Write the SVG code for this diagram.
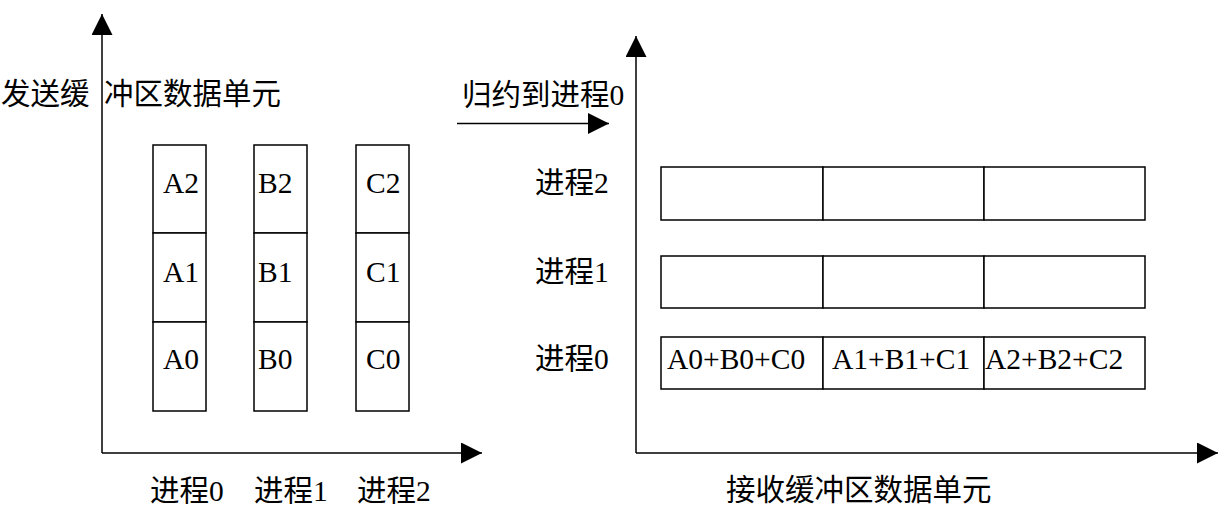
<svg xmlns="http://www.w3.org/2000/svg" width="1232" height="520" viewBox="0 0 1232 520">
<style>
  text { font-family: "Liberation Serif", "Times New Roman", Tinos, "DejaVu Serif", "Noto Sans CJK SC", serif; font-size: 29.5px; fill: #000; }
  .cell { fill: #fff; stroke: #000; stroke-width: 1.5; }
  .axis { stroke: #000; stroke-width: 1.5; fill: none; }
</style>
<defs>
  <marker id="arr" markerUnits="userSpaceOnUse" markerWidth="21" markerHeight="21" refX="21" refY="10.5" orient="auto">
    <path d="M0,0 L21,10.5 L0,21 Z" fill="#000"/>
  </marker>
</defs>
<rect width="1232" height="520" fill="#fff"/>

<g id="connectors">
  <polyline class="axis" points="102,453 482,453" marker-end="url(#arr)"/>
  <line class="axis" x1="102" y1="453" x2="102" y2="14" marker-end="url(#arr)"/>
  <polyline class="axis" points="636,453 1218,453" marker-end="url(#arr)"/>
  <line class="axis" x1="636" y1="453" x2="636" y2="36" marker-end="url(#arr)"/>
  <line class="axis" x1="457" y1="123.5" x2="609" y2="123.5" marker-end="url(#arr)"/>
</g>

<g id="labels">
  <text x="1" y="104">发送缓<tspan x="104">冲区数据单元</tspan></text>
  <text x="462" y="105">归约到进程0</text>
  <text x="150" y="501">进程0</text>
  <text x="254" y="501">进程1</text>
  <text x="357" y="501">进程2</text>
  <text x="726" y="500">接收缓冲区数据单元</text>
  <text x="535" y="193">进程2</text>
  <text x="535" y="282">进程1</text>
  <text x="535" y="369">进程0</text>
</g>

<g id="colA">
  <rect class="cell" x="153" y="145" width="53" height="88"/>
  <rect class="cell" x="153" y="233" width="53" height="89"/>
  <rect class="cell" x="153" y="322" width="53" height="89"/>
  <text x="163" y="193">A2</text>
  <text x="163" y="282">A1</text>
  <text x="163" y="369">A0</text>
</g>
<g id="colB">
  <rect class="cell" x="254" y="145" width="53" height="88"/>
  <rect class="cell" x="254" y="233" width="53" height="89"/>
  <rect class="cell" x="254" y="322" width="53" height="89"/>
  <text x="258" y="193">B2</text>
  <text x="258" y="282">B1</text>
  <text x="258" y="369">B0</text>
</g>
<g id="colC">
  <rect class="cell" x="356" y="145" width="53" height="88"/>
  <rect class="cell" x="356" y="233" width="53" height="89"/>
  <rect class="cell" x="356" y="322" width="53" height="89"/>
  <text x="366" y="193">C2</text>
  <text x="366" y="282">C1</text>
  <text x="366" y="369">C0</text>
</g>

<g id="row2">
  <rect class="cell" x="661" y="167" width="162" height="53"/>
  <rect class="cell" x="823" y="167" width="161" height="53"/>
  <rect class="cell" x="984" y="167" width="161" height="53"/>
</g>
<g id="row1">
  <rect class="cell" x="661" y="256" width="162" height="52"/>
  <rect class="cell" x="823" y="256" width="161" height="52"/>
  <rect class="cell" x="984" y="256" width="161" height="52"/>
</g>
<g id="row0">
  <rect class="cell" x="661" y="337" width="162" height="52"/>
  <rect class="cell" x="823" y="337" width="161" height="52"/>
  <rect class="cell" x="984" y="337" width="161" height="52"/>
  <text x="667" y="369">A0+B0+C0</text>
  <text x="832" y="369">A1+B1+C1</text>
  <text x="985" y="369">A2+B2+C2</text>
</g>
</svg>
